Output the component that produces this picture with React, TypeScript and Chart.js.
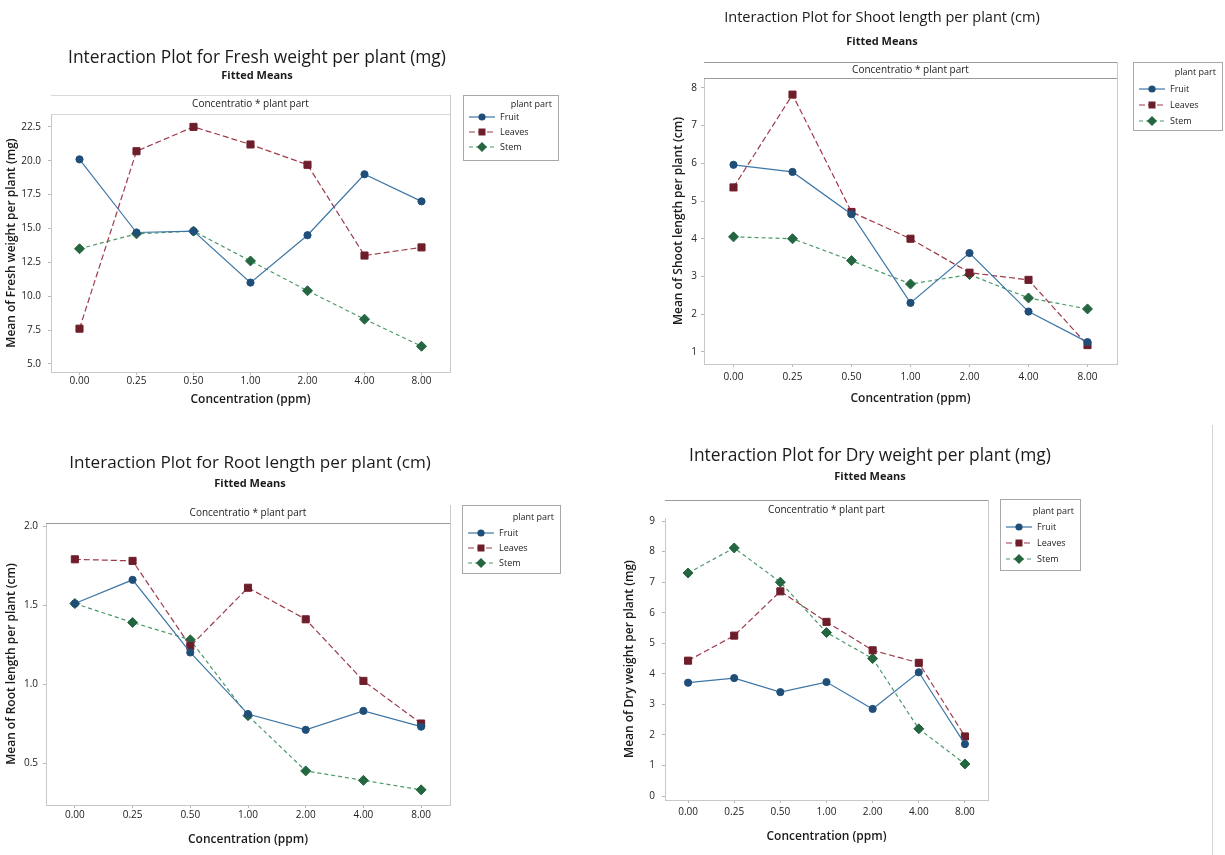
import React, { useEffect, useRef } from 'react';
import { Chart, registerables } from 'chart.js';

Chart.register(...registerables);

const FONT = '"Open Sans", "Noto Sans", "DejaVu Sans", Arial, sans-serif';

// ---------- data ----------
const concentrations = ['0.00', '0.25', '0.50', '1.00', '2.00', '4.00', '8.00'];
const groupNames = ['Fruit', 'Leaves', 'Stem'];

const freshFruit = [20.1, 14.7, 14.8, 11.0, 14.5, 19.0, 17.0];
const freshLeaves = [7.6, 20.7, 22.5, 21.2, 19.7, 13.0, 13.6];
const freshStem = [13.5, 14.6, 14.8, 12.6, 10.4, 8.3, 6.3];
const freshTicks = [5, 7.5, 10, 12.5, 15, 17.5, 20, 22.5];

const shootFruit = [5.96, 5.77, 4.65, 2.3, 3.62, 2.07, 1.26];
const shootLeaves = [5.36, 7.82, 4.71, 4.0, 3.1, 2.91, 1.18];
const shootStem = [4.05, 4.0, 3.42, 2.8, 3.05, 2.43, 2.14];
const shootTicks = [1, 2, 3, 4, 5, 6, 7, 8];

const rootFruit = [1.51, 1.66, 1.2, 0.81, 0.71, 0.83, 0.73];
const rootLeaves = [1.79, 1.78, 1.24, 1.61, 1.41, 1.02, 0.75];
const rootStem = [1.51, 1.39, 1.28, 0.8, 0.45, 0.39, 0.33];
const rootTicks = [0.5, 1.0, 1.5, 2.0];

const dryFruit = [3.71, 3.86, 3.4, 3.73, 2.85, 4.05, 1.7];
const dryLeaves = [4.43, 5.25, 6.7, 5.7, 4.77, 4.36, 1.95];
const dryStem = [7.3, 8.12, 7.0, 5.35, 4.5, 2.2, 1.05];
const dryTicks = [0, 1, 2, 3, 4, 5, 6, 7, 8, 9];

// ---------- styles ----------
const lineColors = ['#3d76a6', '#9c3b4a', '#4b9a69'];
const markerColors = ['#1f4e78', '#6e1e2b', '#23663f'];
const pointStyles = ['circle', 'rect', 'rectRot'];
const pointRadii = [3.6, 5, 5];
const dashes: number[][] = [[], [6, 3], [4, 3]];

type PanelCfg = any;

const panels: PanelCfg[] = [
  {
    key: 'fresh', left: 0, top: 40, width: 580, height: 385,
    area: { l: 51, t: 114, r: 450, b: 372 },
    yMin: 4.4, yMax: 23.45, yTicks: freshTicks, yDec: 1,
    title: 'Interaction Plot for Fresh weight per plant (mg)', titleCx: 257, titleY: 58, titleW: 378,
    subtitleY: 76,
    header: { top: 95, textY: 104, topColor: '#d8d8d8', bottomColor: '#d8d8d8' },
    yTitle: 'Mean of Fresh weight per plant (mg)', yTitleX: 12, yTickRight: 41,
    xTickY: 380, xTitleY: 400,
    legend: { x: 463, y: 95, w: 95, h: 65, titleDy: 9, rowDy: 22, rowGap: 15 },
    series: [freshFruit, freshLeaves, freshStem],
  },
  {
    key: 'shoot', left: 600, top: 0, width: 625, height: 420,
    area: { l: 704, t: 78, r: 1117, b: 364 },
    yMin: 0.68, yMax: 8.26, yTicks: shootTicks, yDec: 0,
    title: 'Interaction Plot for Shoot length per plant (cm)', titleCx: 882, titleY: 18, titleW: 316,
    subtitleY: 42,
    header: { top: 62, textY: 70, topColor: '#9a9a9a', bottomColor: '#9a9a9a' },
    yTitle: 'Mean of Shoot length per plant (cm)', yTitleX: 679, yTickRight: 697,
    xTickY: 377, xTitleY: 399,
    legend: { x: 1133, y: 62, w: 89, h: 68, titleDy: 10, rowDy: 27, rowGap: 16 },
    series: [shootFruit, shootLeaves, shootStem],
  },
  {
    key: 'root', left: 0, top: 440, width: 580, height: 415,
    area: { l: 46, t: 523, r: 450, b: 805 },
    yMin: 0.234, yMax: 2.02, yTicks: rootTicks, yDec: 1,
    title: 'Interaction Plot for Root length per plant (cm)', titleCx: 250, titleY: 463, titleW: 362,
    subtitleY: 484,
    header: { top: 505, textY: 513, topColor: null, bottomColor: '#9a9a9a' },
    yTitle: 'Mean of Root length per plant (cm)', yTitleX: 12, yTickRight: 38,
    xTickY: 815, xTitleY: 840,
    legend: { x: 462, y: 505, w: 98, h: 68, titleDy: 12, rowDy: 28, rowGap: 15 },
    series: [rootFruit, rootLeaves, rootStem],
  },
  {
    key: 'dry', left: 580, top: 440, width: 632, height: 415,
    area: { l: 665, t: 518, r: 988, b: 800 },
    yMin: -0.13, yMax: 9.1, yTicks: dryTicks, yDec: 0,
    title: 'Interaction Plot for Dry weight per plant (mg)', titleCx: 870, titleY: 456, titleW: 362,
    subtitleY: 477,
    header: { top: 500, textY: 510, topColor: '#9a9a9a', bottomColor: null },
    yTitle: 'Mean of Dry weight per plant (mg)', yTitleX: 630, yTickRight: 655,
    xTickY: 812, xTitleY: 837,
    legend: { x: 1000, y: 499, w: 80, h: 71, titleDy: 12, rowDy: 28, rowGap: 16 },
    series: [dryFruit, dryLeaves, dryStem],
  },
];

function drawMarker(ctx: CanvasRenderingContext2D, style: string, x: number, y: number, color: string) {
  ctx.save();
  ctx.fillStyle = color;
  ctx.beginPath();
  if (style === 'circle') {
    ctx.arc(x, y, 3.6, 0, Math.PI * 2);
  } else if (style === 'rect') {
    ctx.rect(x - 3.5, y - 3.5, 7, 7);
  } else {
    ctx.moveTo(x, y - 5);
    ctx.lineTo(x + 5, y);
    ctx.lineTo(x, y + 5);
    ctx.lineTo(x - 5, y);
    ctx.closePath();
  }
  ctx.fill();
  ctx.restore();
}

function makeDecor(p: PanelCfg) {
  const ox = p.left;
  const oy = p.top;
  return {
    id: 'decor_' + p.key,
    beforeDatasetsDraw(chart: any) {
      const ctx: CanvasRenderingContext2D = chart.ctx;
      const ca = chart.chartArea;
      ctx.save();
      ctx.lineWidth = 1;
      ctx.strokeStyle = '#c8c8c8';
      ctx.beginPath();
      ctx.moveTo(Math.round(ca.right) + 0.5, p.header.top - oy);
      ctx.lineTo(Math.round(ca.right) + 0.5, ca.bottom);
      ctx.stroke();
      const ht = p.header.top - oy;
      if (p.header.topColor) {
        ctx.strokeStyle = p.header.topColor;
        ctx.beginPath();
        ctx.moveTo(ca.left, Math.round(ht) + 0.5);
        ctx.lineTo(ca.right, Math.round(ht) + 0.5);
        ctx.stroke();
      }
      if (p.header.bottomColor) {
        ctx.strokeStyle = p.header.bottomColor;
        ctx.beginPath();
        ctx.moveTo(ca.left, Math.round(ca.top) + 0.5);
        ctx.lineTo(ca.right, Math.round(ca.top) + 0.5);
        ctx.stroke();
      }
      ctx.fillStyle = '#222';
      ctx.font = `10px ${FONT}`;
      ctx.textAlign = 'center';
      ctx.textBaseline = 'middle';
      ctx.fillText('Concentratio * plant part', (ca.left + ca.right) / 2, p.header.textY - oy);
      ctx.restore();
    },
    afterDraw(chart: any) {
      const ctx: CanvasRenderingContext2D = chart.ctx;
      ctx.save();
      ctx.fillStyle = '#1a1a1a';
      ctx.textAlign = 'center';
      ctx.textBaseline = 'middle';
      ctx.font = `14px ${FONT}`;
      const w = ctx.measureText(p.title).width;
      const size = (14 * p.titleW) / w;
      ctx.font = `${size.toFixed(2)}px ${FONT}`;
      ctx.fillText(p.title, p.titleCx - ox, p.titleY - oy);
      ctx.font = `bold 11px ${FONT}`;
      ctx.fillText('Fitted Means', p.titleCx - ox, p.subtitleY - oy);

      const L = p.legend;
      const lx = L.x - ox;
      const ly = L.y - oy;
      ctx.strokeStyle = '#a8a8a8';
      ctx.lineWidth = 1;
      ctx.strokeRect(Math.round(lx) + 0.5, Math.round(ly) + 0.5, L.w, L.h);
      ctx.fillStyle = '#222';
      ctx.font = `9px ${FONT}`;
      ctx.textAlign = 'right';
      ctx.fillText('plant part', lx + L.w - 6, ly + L.titleDy);
      chart.data.datasets.forEach((ds: any, i: number) => {
        const ry = ly + L.rowDy + i * L.rowGap;
        ctx.save();
        ctx.strokeStyle = lineColors[i];
        ctx.lineWidth = 1.2;
        ctx.setLineDash(dashes[i]);
        ctx.beginPath();
        ctx.moveTo(lx + 6, ry);
        ctx.lineTo(lx + 32, ry);
        ctx.stroke();
        ctx.restore();
        drawMarker(ctx, pointStyles[i], lx + 19, ry, markerColors[i]);
        ctx.fillStyle = '#222';
        ctx.textAlign = 'left';
        ctx.font = `9px ${FONT}`;
        ctx.fillText(ds.label, lx + 37, ry);
      });
      ctx.restore();
    },
  };
}

function PanelChart({ p }: { p: PanelCfg }) {
  const ref = useRef<HTMLCanvasElement | null>(null);
  useEffect(() => {
    const canvas = ref.current;
    if (!canvas) return;
    const ox = p.left;
    const oy = p.top;
    const a = { l: p.area.l - ox, t: p.area.t - oy, r: p.area.r - ox, b: p.area.b - oy };
    const tl = 3;
    const tickFont = { family: FONT, size: 10 };
    const axTitleFont = { family: FONT, size: 12, weight: '600' };
    const xTickPad = Math.max(0, p.xTickY - p.area.b - tl - 6);
    const xTitleCenter = p.xTitleY - oy;
    const pb = Math.max(0, p.height - xTitleCenter - 2 - 7.2);
    const xH = p.height - pb - a.b;
    const yTickPad = Math.max(0, a.l - (p.yTickRight - ox) - tl);
    const yTitleOffset = Math.max(0, p.yTitleX - ox - 7.2);

    const chart = new Chart(canvas, {
      type: 'line',
      data: {
        labels: concentrations,
        datasets: p.series.map((vals: number[], i: number) => ({
          label: groupNames[i],
          data: vals,
          borderColor: lineColors[i],
          borderWidth: 1.2,
          borderDash: dashes[i],
          pointStyle: pointStyles[i],
          pointRadius: pointRadii[i],
          pointBackgroundColor: markerColors[i],
          pointBorderColor: markerColors[i],
          pointBorderWidth: 1,
          tension: 0,
          fill: false,
        })),
      },
      options: {
        animation: false,
        responsive: false,
        maintainAspectRatio: false,
        devicePixelRatio: 1,
        layout: { padding: { left: 0, top: a.t, right: p.width - a.r, bottom: pb } },
        plugins: { legend: { display: false }, title: { display: false }, tooltip: { enabled: false } },
        scales: {
          x: {
            type: 'category',
            offset: true,
            afterFit: (s: any) => { s.height = xH; },
            grid: { drawOnChartArea: false, drawTicks: true, tickLength: tl, color: '#b8b8b8' },
            border: { display: true, color: '#c8c8c8' },
            ticks: { font: tickFont, color: '#222', padding: xTickPad, maxRotation: 0, autoSkip: false },
            title: { display: true, text: 'Concentration (ppm)', font: axTitleFont, color: '#1a1a1a', padding: { top: 2, bottom: 2 } },
          },
          y: {
            type: 'linear',
            min: p.yMin,
            max: p.yMax,
            bounds: 'data',
            afterFit: (s: any) => { s.width = a.l; },
            afterBuildTicks: (s: any) => { s.ticks = p.yTicks.map((v: number) => ({ value: v })); },
            grid: { drawOnChartArea: false, drawTicks: true, tickLength: tl, color: '#b8b8b8' },
            border: { display: true, color: '#c8c8c8' },
            ticks: { font: tickFont, color: '#222', padding: yTickPad, callback: (v: any) => Number(v).toFixed(p.yDec) },
            title: { display: true, text: p.yTitle, font: axTitleFont, color: '#1a1a1a', padding: { top: yTitleOffset, bottom: 0 } },
          },
        },
      } as any,
      plugins: [makeDecor(p)],
    });
    return () => chart.destroy();
  }, [p]);
  return (
    <canvas
      ref={ref}
      width={p.width}
      height={p.height}
      style={{ position: 'absolute', left: p.left, top: p.top, width: p.width, height: p.height }}
    />
  );
}

export default function App() {
  return (
    <div style={{ position: 'absolute', left: 0, top: 0, width: 1225, height: 855, background: '#fff', overflow: 'hidden' }}>
      {panels.map((p) => (
        <PanelChart key={p.key} p={p} />
      ))}
      <div style={{ position: 'absolute', left: 1212, top: 425, width: 1, height: 430, background: '#d4d4d4' }} />
    </div>
  );
}
